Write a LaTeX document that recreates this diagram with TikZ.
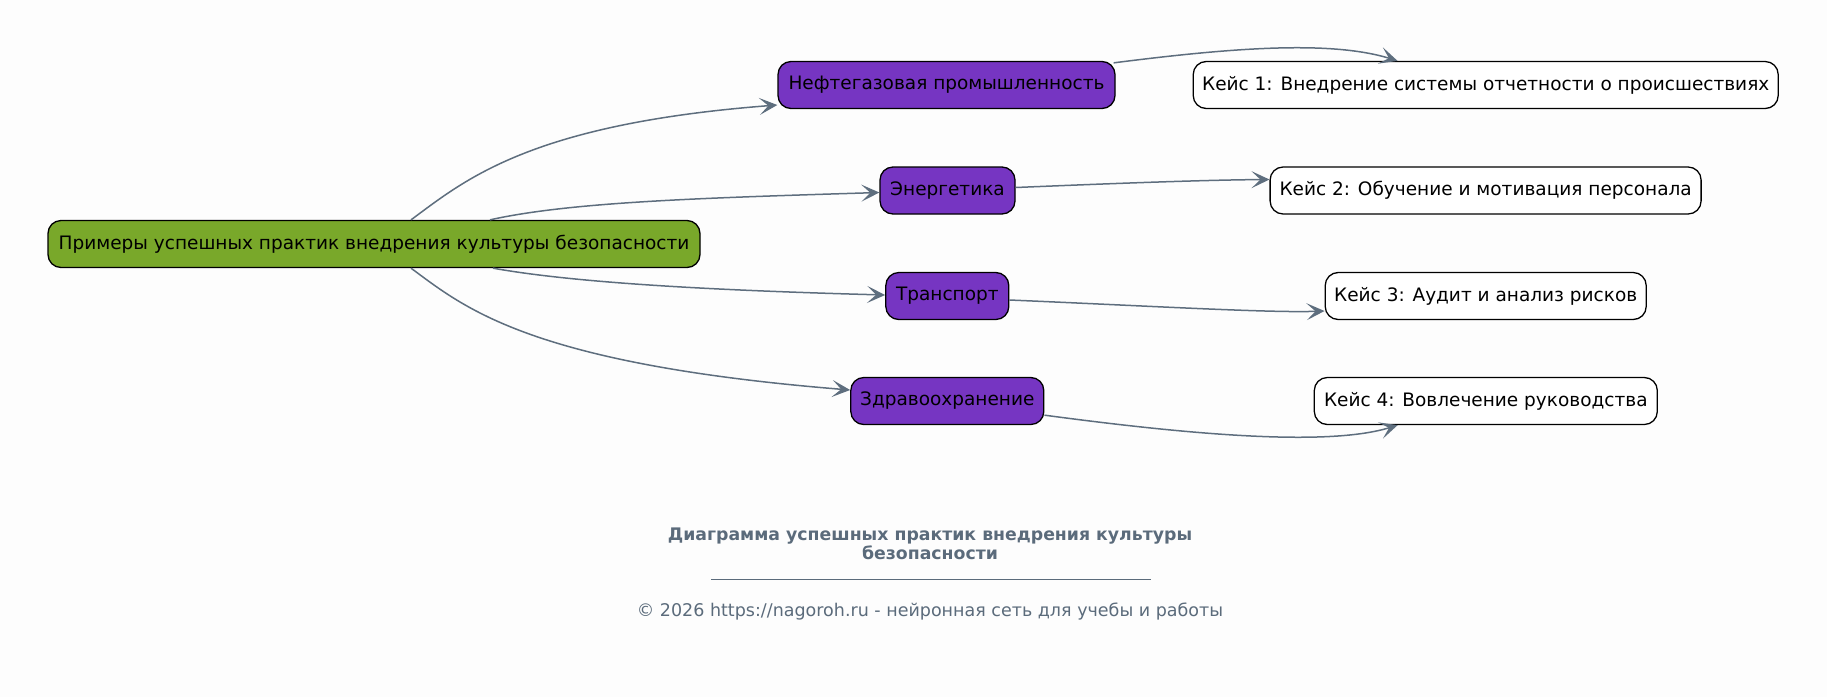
\documentclass[tikz,border=0pt]{standalone}
\usepackage{fontspec}
\setmainfont{DejaVu Sans}
\usetikzlibrary{arrows.meta}
\definecolor{bgc}{HTML}{FDFDFD}
\definecolor{rootc}{HTML}{79A82A}
\definecolor{catc}{HTML}{7635C2}
\definecolor{edgec}{HTML}{5E6E7E}
\definecolor{footc}{HTML}{5B6B7B}
\tikzset{
  box/.style={draw=black, line width=1.3pt, rounded corners=13pt, minimum height=47pt, inner xsep=0pt, inner ysep=0pt, font=\fontsize{18.5}{21}\selectfont, text=black},
  rootbox/.style={box, fill=rootc},
  catbox/.style={box, fill=catc},
  casebox/.style={box, fill=white},
  conn/.style={draw=edgec, line width=1.5pt, -{Stealth[length=18pt,width=17pt,inset=9pt]}},
}
\begin{document}
\begin{tikzpicture}[x=1pt,y=-1pt]
\fill[bgc] (0,0) rectangle (1827,697);
\useasboundingbox (0,0) rectangle (1827,697);
\node[rootbox, minimum width=652pt] (root) at (374,244) {Примеры успешных практик внедрения культуры безопасности};
\node[catbox, minimum width=337pt] (oil) at (946.5,85) {Нефтегазовая промышленность};
\node[catbox, minimum width=135pt] (en) at (947.5,190.5) {Энергетика};
\node[catbox, minimum width=123pt] (tr) at (947.3,296) {Транспорт};
\node[catbox, minimum width=193pt] (he) at (947.3,401) {Здравоохранение};
\node[casebox, minimum width=585pt] (c1) at (1485.7,85) {Кейс 1: Внедрение системы отчетности о происшествиях};
\node[casebox, minimum width=431pt] (c2) at (1485.6,190.5) {Кейс 2: Обучение и мотивация персонала};
\node[casebox, minimum width=321pt] (c3) at (1485.7,296) {Кейс 3: Аудит и анализ рисков};
\node[casebox, minimum width=343pt] (c4) at (1485.8,401) {Кейс 4: Вовлечение руководства};

\draw[conn] ([xshift=37pt]root.north) .. controls (465,180) and (530,124) .. ([yshift=-20pt]oil.west);
\draw[conn] ([xshift=116pt]root.north) .. controls (570,202) and (700,198) .. ([yshift=-2pt]en.west);
\draw[conn] ([xshift=119pt]root.south) .. controls (570,282) and (700,290) .. ([yshift=1pt]tr.west);
\draw[conn] ([xshift=37pt]root.south) .. controls (465,308) and (530,364) .. ([yshift=11pt]he.west);

\draw[conn] ([xshift=-2pt,yshift=-2pt]oil.north east) .. controls (1230,48) and (1330,40) .. ([xshift=205pt]c1.north west);
\draw[conn] ([yshift=3pt]en.east) .. controls (1100,184) and (1200,180) .. ([yshift=11pt]c2.west);
\draw[conn] ([yshift=-4pt]tr.east) .. controls (1150,306) and (1270,313) .. ([yshift=-15pt]c3.west);
\draw[conn] ([yshift=10pt]he.south east) .. controls (1200,436) and (1330,446) .. ([xshift=84pt]c4.south west);

\node[font=\fontsize{17.3}{18.6}\selectfont\bfseries, text=footc, align=center] (title) at (930,544) {Диаграмма успешных практик внедрения культуры\\безопасности};
\coordinate (la) at (711,579);
\coordinate (lb) at (1151,579);
\draw[footc, line width=0.8pt] (la) -- (lb);
\node[font=\fontsize{17.5}{19}\selectfont, text=footc] (copy) at (930,612) {© 2026 https://nagoroh.ru - нейронная сеть для учебы и работы};
\end{tikzpicture}
\end{document}
